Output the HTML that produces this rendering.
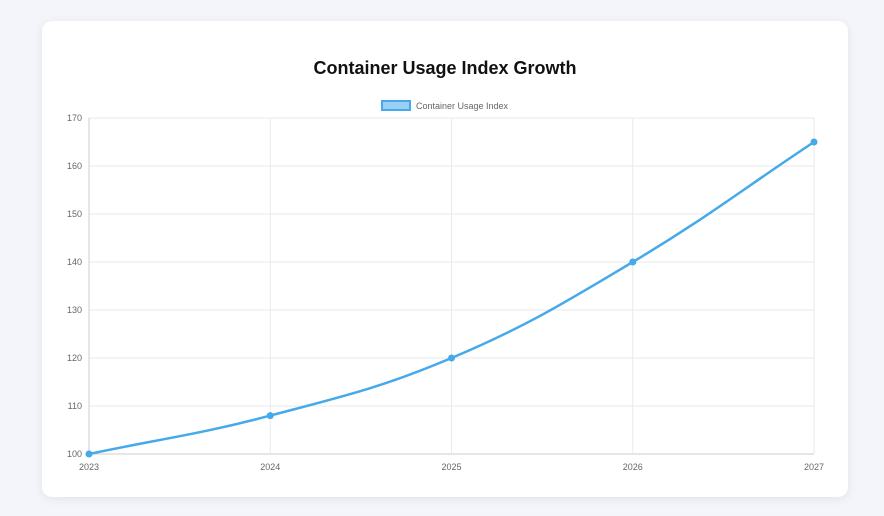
<!DOCTYPE html>
<html><head><meta charset="utf-8"><style>
body{margin:0;background:#f4f5fa;width:884px;height:516px;overflow:hidden;font-family:"Liberation Sans",sans-serif}
.card{position:absolute;left:42px;top:21px;width:806px;height:476px;background:#fff;border-radius:10px;box-shadow:0 2px 10px rgba(0,0,0,0.08)}
</style></head><body>
<div class="card"></div>
<svg id="c" width="884" height="516" style="position:absolute;left:0;top:0">
<text x="445" y="74" text-anchor="middle" font-size="18" font-weight="bold" fill="#111">Container Usage Index Growth</text>
<g>
<rect x="382" y="101" width="28" height="9" fill="rgba(54,162,235,0.5)" stroke="#45a9ea" stroke-width="2"/>
<text x="416" y="109" font-size="9" fill="#666">Container Usage Index</text>
</g>
<g id="grid"></g><g id="ticks"></g><path id="line" fill="none" stroke="#45a9ea" stroke-width="2.5"/><g id="pts"></g>
</svg>
<script>
const categories=["2023","2024","2025","2026","2027"];
const values=[100,108,120,140,165];
const yTicks=[100,110,120,130,140,150,160,170];
const L=89,R=814,T=118,B=454,yMin=100,yMax=170;
const xs=i=>L+i*(R-L)/(categories.length-1);
const ys=v=>B-(v-yMin)/(yMax-yMin)*(B-T);
const ns="http://www.w3.org/2000/svg";
function mk(t,a,p){const e=document.createElementNS(ns,t);for(const k in a)e.setAttribute(k,a[k]);p.appendChild(e);return e;}
const g=document.getElementById('grid'),tk=document.getElementById('ticks');
yTicks.forEach(v=>{const l=mk('line',{x1:L,x2:R,y1:ys(v),y2:ys(v),stroke:v===yMin?'#ccc':'#eaeaea'},g);


const t=mk('text',{x:L-7,y:ys(v)+3,'text-anchor':'end','font-size':9,fill:'#666'},tk);t.textContent=v;

});
categories.forEach((c,i)=>{const l=mk('line',{x1:xs(i),x2:xs(i),y1:T,y2:B,stroke:i===0?'#ccc':'#eaeaea'},g);


const t=mk('text',{x:xs(i),y:B+16,'text-anchor':'middle','font-size':9,fill:'#666'},tk);t.textContent=c;

});
const P=values.map((v,i)=>[xs(i),ys(v)]);const tn=0.4;
let d=`M${P[0][0]},${P[0][1]}`;
const cps=P.map((p,i)=>{const a=P[i-1]||p,b=P[i+1]||p;
const d01=Math.hypot(p[0]-a[0],p[1]-a[1]),d12=Math.hypot(b[0]-p[0],b[1]-p[1]);
let fa=tn*d01/(d01+d12||1),fb=tn*d12/(d01+d12||1);
return {prev:[p[0]-fa*(b[0]-a[0]),p[1]-fa*(b[1]-a[1])],next:[p[0]+fb*(b[0]-a[0]),p[1]+fb*(b[1]-a[1])]};});
for(let i=1;i<P.length;i++){const c1=cps[i-1].next,c2=cps[i].prev;d+=` C${c1[0]},${c1[1]} ${c2[0]},${c2[1]} ${P[i][0]},${P[i][1]}`;}
document.getElementById('line').setAttribute('d',d);
const pg=document.getElementById('pts');
P.forEach(p=>{const c=mk('circle',{cx:p[0],cy:p[1],r:3.5,fill:'#45a9ea'},pg);

});
</script>
</body></html>
